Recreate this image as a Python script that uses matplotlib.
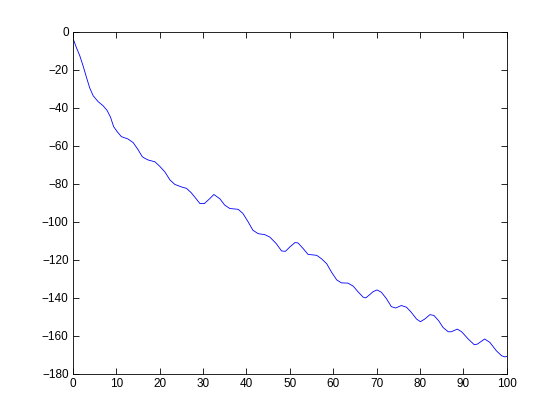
import matplotlib
matplotlib.use("Agg")
import matplotlib.pyplot as plt

x_vals = [0.0, 0.23, 0.85, 1.6, 2.4, 3.2, 3.9, 4.7, 5.8, 7.0, 7.9, 8.7, 9.4, 10.2, 11.2, 12.7,
          13.9, 15.0, 16.0, 16.6, 17.4, 18.9, 20.0, 21.2, 22.4, 23.5, 25.0, 26.2, 27.3, 28.5,
          29.3, 30.3, 31.6, 32.5, 33.9, 35.0, 36.2, 38.1, 39.2, 40.4, 41.5, 42.7, 44.2, 45.4,
          46.9, 48.1, 49.0, 50.0, 51.2, 51.9, 53.1, 54.2, 56.2, 57.3, 58.5, 59.6, 60.8, 61.9,
          63.4, 64.6, 65.7, 66.9, 67.5, 68.4, 69.2, 70.1, 71.1, 72.3, 73.4, 74.4, 75.7, 76.9,
          78.0, 79.2, 80.1, 81.1, 82.3, 83.2, 84.3, 85.3, 86.5, 87.2, 88.6, 89.6, 91.1, 92.5,
          93.2, 94.9, 96.1, 97.6, 98.8, 99.5, 100.0]
y_vals = [-3.5, -4.75, -8.6, -12.7, -18.3, -24.5, -29.7, -33.8, -36.8, -39.1, -41.5, -45.1, -50.0, -52.6, -55.3, -56.5,
          -58.4, -62.0, -65.8, -66.7, -67.6, -68.5, -70.8, -73.8, -78.1, -80.4, -81.7, -82.5, -84.8, -88.2,
          -90.5, -90.5, -87.8, -85.7, -88.0, -91.3, -93.1, -93.5, -95.7, -100.1, -104.5, -106.3, -106.8, -108.1,
          -111.6, -115.4, -115.6, -113.3, -111.0, -111.2, -114.2, -117.2, -117.7, -119.5, -122.1, -126.5, -130.6, -132.2,
          -132.3, -133.9, -136.8, -139.7, -140.1, -138.4, -136.8, -135.9, -137.1, -140.6, -144.7, -145.4, -144.1, -145.0,
          -147.7, -151.2, -152.6, -151.2, -148.9, -149.3, -152.1, -155.6, -157.9, -157.9, -156.5, -157.9, -161.7, -164.7,
          -164.4, -161.7, -163.5, -167.9, -170.5, -171.1, -170.9]

x_ticks = list(range(0, 101, 10))
y_ticks = list(range(-180, 1, 20))

plt.rcParams['font.family'] = ['Liberation Sans', 'DejaVu Sans']
fig = plt.figure(figsize=(5.6, 4.2), dpi=100)
ax = fig.add_axes([0.13, 0.11, 0.775, 0.815])
ax.plot(x_vals, y_vals, color=(0, 0, 1), linewidth=0.6)
ax.set_xlim(0, 100)
ax.set_ylim(-180, 0)
ax.set_xticks(x_ticks)
ax.set_yticks(y_ticks)
ax.tick_params(direction='in', top=True, right=True, labelsize=8.5, length=4, width=0.6, pad=3)
for s in ax.spines.values():
    s.set_linewidth(0.6)
fig.savefig("out.png", dpi=100)
